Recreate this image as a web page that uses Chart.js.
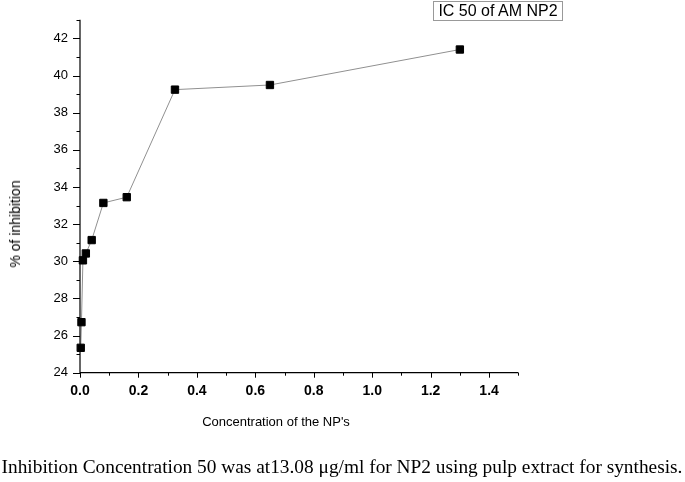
<!DOCTYPE html>
<html>
<head>
<meta charset="utf-8">
<script src="https://cdn.jsdelivr.net/npm/chart.js@4.4.1/dist/chart.umd.min.js"></script>
<style>
  html, body { margin: 0; padding: 0; background: #fff; }
  #wrap { position: relative; width: 685px; height: 482px; overflow: hidden; }
  #c { position: absolute; left: 0; top: 0; }
  .t { position: absolute; font-family: "Liberation Sans", Arial, sans-serif; color: #000; white-space: nowrap; }
  #ytitle { font-size: 14px; left: 15px; top: 224px; transform: translate(-50%, -50%) rotate(-90deg); }
  #xtitle { font-size: 13px; left: 276px; top: 421px; transform: translate(-50%, -50%); }
  #legend { font-size: 16px; left: 433px; top: 1px; width: 128px; height: 18px; line-height: 18px; border: 1px solid #999; text-align: center; }
  #caption { font-family: "Liberation Serif", "Times New Roman", serif; font-size: 19.35px; left: 342px; top: 467px; transform: translate(-50%, -50%); }
</style>
</head>
<body>
<div id="wrap">
  <canvas id="c" width="685" height="482"></canvas>
  <div class="t" id="ytitle">% of inhibition</div>
  <div class="t" id="xtitle">Concentration of the NP's</div>
  <div class="t" id="legend">IC 50 of AM NP2</div>
  <div class="t" id="caption">Inhibition Concentration 50 was at13.08 μg/ml for NP2 using pulp extract for synthesis.</div>
</div>
<script>
// Data
const concentration = [0.0025, 0.005, 0.01, 0.02, 0.04, 0.08, 0.16, 0.325, 0.65, 1.3];
const inhibition = [25.34, 26.72, 30.05, 30.42, 31.14, 33.14, 33.45, 39.24, 39.49, 41.4];
const xTickLabels = ['0.0', '0.2', '0.4', '0.6', '0.8', '1.0', '1.2', '1.4'];
const yTickLabels = ['24', '26', '28', '30', '32', '34', '36', '38', '40', '42'];

const points = concentration.map((x, i) => ({ x: x, y: inhibition[i] }));

const axisPlugin = {
  id: 'originAxes',
  afterDatasetsDraw(chart) {
    const ctx = chart.ctx;
    const xs = chart.scales.x, ys = chart.scales.y;
    const area = chart.chartArea;
    ctx.save();
    ctx.strokeStyle = '#000';
    ctx.lineWidth = 1.2;
    ctx.beginPath();
    ctx.moveTo(area.left, area.top);
    ctx.lineTo(area.left, area.bottom);
    ctx.lineTo(area.right, area.bottom);
    ctx.stroke();
    ctx.lineWidth = 1;
    ctx.beginPath();
    xs.ticks.forEach((t, i) => {
      const px = Math.round(xs.getPixelForValue(t.value)) + 0.5;
      const len = (i % 2 === 0) ? 5 : 3;
      ctx.moveTo(px, area.bottom);
      ctx.lineTo(px, area.bottom + len);
    });
    ys.ticks.forEach((t, i) => {
      const py = Math.round(ys.getPixelForValue(t.value)) + 0.5;
      const len = (i % 2 === 0) ? 7 : 3.5;
      ctx.moveTo(area.left, py);
      ctx.lineTo(area.left - len, py);
    });
    ctx.stroke();
    ctx.restore();
  }
};

new Chart(document.getElementById('c'), {
  type: 'line',
  data: {
    datasets: [{
      data: points,
      borderColor: '#909090',
      borderWidth: 1,
      pointStyle: 'rect',
      pointRadius: 5.2,
      pointBorderWidth: 1,
      pointBackgroundColor: '#000',
      pointBorderColor: '#000',
      pointHoverRadius: 5.2,
      tension: 0,
      clip: false
    }]
  },
  options: {
    responsive: false,
    devicePixelRatio: 1,
    animation: false,
    events: [],
    layout: { padding: { top: 13.3, right: 166.7, bottom: 0, left: 0 } },
    plugins: { legend: { display: false }, tooltip: { enabled: false }, title: { display: false } },
    scales: {
      x: {
        type: 'linear',
        min: 0, max: 1.5,
        grid: { display: false, drawTicks: false },
        border: { display: false },
        afterFit(scale) { scale.height = 109.3; },
        afterBuildTicks(scale) {
          const t = [];
          for (let i = 0; i <= 15; i++) t.push({ value: +(i * 0.1).toFixed(1) });
          scale.ticks = t;
        },
        ticks: {
          autoSkip: false,
          maxRotation: 0,
          padding: 10,
          color: '#000',
          font: { family: '"Liberation Sans", Arial, sans-serif', size: 14, weight: 'bold' },
          callback(v, i) { return (i % 2 === 0 && i / 2 < xTickLabels.length) ? xTickLabels[i / 2] : ''; }
        }
      },
      y: {
        type: 'linear',
        min: 24, max: 43,
        grid: { display: false, drawTicks: false },
        border: { display: false },
        afterFit(scale) { scale.width = 80; },
        afterBuildTicks(scale) {
          const t = [];
          for (let v = 24; v <= 43; v++) t.push({ value: v });
          scale.ticks = t;
        },
        ticks: {
          autoSkip: false,
          padding: 12,
          color: '#000',
          font: { family: '"Liberation Sans", Arial, sans-serif', size: 13 },
          callback(v, i) { return (i % 2 === 0 && i / 2 < yTickLabels.length) ? yTickLabels[i / 2] : ''; }
        }
      }
    }
  },
  plugins: [axisPlugin]
});
</script>
</body>
</html>
